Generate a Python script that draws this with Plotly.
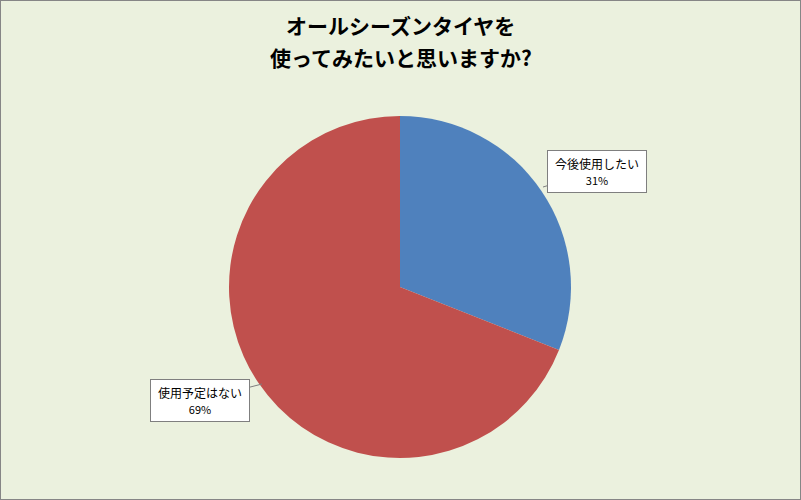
import plotly.graph_objects as go

TITLE_LINES = ["オールシーズンタイヤを", "使ってみたいと思いますか?"]
labels = ["今後使用したい", "使用予定はない"]
values = [31, 69]
colors = ["#4F81BD", "#C0504D"]

W, H = 801, 500
CX, CY, R = 400, 287, 171

fig = go.Figure(go.Pie(
    labels=labels,
    values=values,
    sort=False,
    direction="clockwise",
    rotation=0,
    textinfo="none",
    hoverinfo="label+percent",
    marker=dict(colors=colors, line=dict(width=0)),
    domain=dict(x=[(CX - R) / W, (CX + R) / W],
                y=[(H - CY - R) / H, (H - CY + R) / H]),
    showlegend=False,
))

# title, one annotation per line to get the wider line spacing
for i, line in enumerate(TITLE_LINES):
    fig.add_annotation(
        x=0.5, y=1 - (25 + 32 * i) / H, xref="paper", yref="paper",
        xanchor="center", yanchor="middle", showarrow=False,
        text=f"<b>{line}</b>",
        font=dict(family="Noto Sans CJK JP", size=21, color="black"),
    )

# callout boxes (text, box centre, pointer target on the pie edge)
callouts = [
    (labels[0], values[0], 597, 171, 543, 187),
    (labels[1], values[1], 200, 400, 262, 384),
]
for name, v, bx, by, px, py in callouts:
    fig.add_annotation(
        x=px / W, y=1 - py / H, xref="paper", yref="paper",
        ax=bx - px, ay=by - py, axref="pixel", ayref="pixel",
        text=f"{name}<br><span style='font-size:11px'>{v}%</span>",
        showarrow=True, arrowhead=0, arrowwidth=1, arrowcolor="#7F7F7F",
        standoff=0,
        font=dict(family="Noto Sans CJK JP", size=12, color="black"),
        align="center",
        bgcolor="white", bordercolor="#7F7F7F", borderwidth=1, borderpad=4,
        width=90,
    )

fig.update_layout(
    width=W, height=H,
    margin=dict(l=0, r=0, t=0, b=0),
    paper_bgcolor="#EBF1DE",
    shapes=[dict(type="rect", xref="paper", yref="paper", x0=0, y0=0, x1=1, y1=1,
                 line=dict(color="#868686", width=2))],
)

fig.write_html("out.html", config={"displayModeBar": False},
               post_script="document.body.style.margin='0px';")
